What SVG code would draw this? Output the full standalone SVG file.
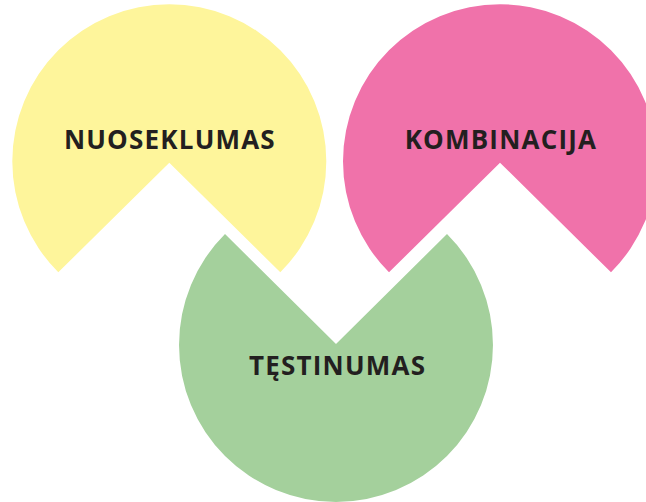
<svg xmlns="http://www.w3.org/2000/svg" width="646" height="502" viewBox="0 0 646 502">
<style>
.lbl{font-family:"Open Sans","Noto Sans","Liberation Sans",sans-serif;font-weight:700;font-size:26px;letter-spacing:1.2px;fill:#231F20;text-anchor:middle}
</style>
<rect width="646" height="502" fill="#FFFFFF"/>
<g id="nuoseklumas">
<path d="M169.3,162.7 L58.3,272.3 A157,157 0 1 1 280.3,272.3 Z" fill="#FEF59B"/>
<text class="lbl" x="169.9" y="149">NUOSEKLUMAS</text>
</g>
<g id="kombinacija">
<path d="M500,162.7 L389,272.3 A157,157 0 1 1 611,272.3 Z" fill="#F072AA"/>
<text class="lbl" x="500.9" y="149">KOMBINACIJA</text>
</g>
<g id="testinumas">
<path d="M336,344 L225,234 A157,157 0 1 0 447,234 Z" fill="#A4D09C"/>
<text class="lbl" x="337.6" y="375">TĘSTINUMAS</text>
</g>
<g id="connectors"></g>
</svg>
